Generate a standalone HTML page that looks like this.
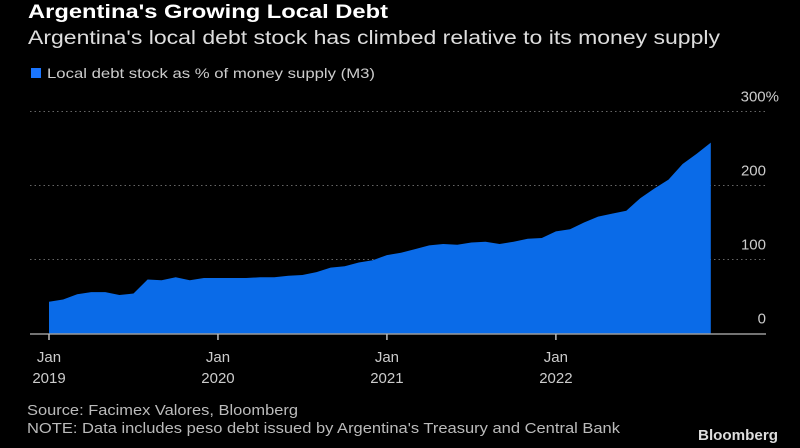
<!DOCTYPE html>
<html><head><meta charset="utf-8"><style>
html,body{margin:0;padding:0;background:#000;width:800px;height:448px;overflow:hidden}
svg text{font-family:"Liberation Sans","DejaVu Sans",sans-serif}
</style></head><body>
<svg id="chart" width="800" height="448" viewBox="0 0 800 448">
<rect width="800" height="448" fill="#000"/>
<text x="28" y="18" font-size="19" font-weight="bold" fill="#fff" textLength="360" lengthAdjust="spacingAndGlyphs">Argentina's Growing Local Debt</text>
<text x="28" y="44" font-size="19" fill="#ddd" textLength="692" lengthAdjust="spacingAndGlyphs">Argentina's local debt stock has climbed relative to its money supply</text>
<rect x="31" y="68" width="10" height="10" fill="#1a75ff"/>
<text x="47" y="78" font-size="14" fill="#ccc" textLength="328" lengthAdjust="spacingAndGlyphs">Local debt stock as % of money supply (M3)</text>
<g id="grid"></g>
<path id="area" fill="#0a6be8"></path>
<line x1="30" y1="334" x2="766" y2="334" stroke="#999" stroke-width="1.5"/>
<g id="xaxis"></g>
<g id="yaxis"></g>
<text x="27" y="415" font-size="15" fill="#bbb" textLength="271" lengthAdjust="spacingAndGlyphs">Source: Facimex Valores, Bloomberg</text>
<text x="27" y="433" font-size="15" fill="#bbb" textLength="593" lengthAdjust="spacingAndGlyphs">NOTE: Data includes peso debt issued by Argentina's Treasury and Central Bank</text>
<text x="698" y="440" font-size="15" font-weight="bold" fill="#ddd" textLength="80" lengthAdjust="spacingAndGlyphs">Bloomberg</text>
</svg>
<script>
const values=[43,46,53,56,56,52,54,73,72,76,72,75,
75,75,75,76,76,78,79,83,89,91,96,99,
106,109,114,119,121,120,123,124,121,124,128,129,
138,141,150,158,162,166,183,196,208,229,243,258];
const yTicks=[0,100,200,300];
const yTickLabels=["0","100","200","300%"];
const xTickIdx=[0,12,24,36];
const xTickLabels=[["Jan","2019"],["Jan","2020"],["Jan","2021"],["Jan","2022"]];
const NS="http://www.w3.org/2000/svg";
const x=i=>49+i*14.08;
const y=v=>333.5-v*0.74;
const grid=document.getElementById('grid');
const ya=document.getElementById('yaxis');
yTicks.forEach((t,k)=>{
  if(t>0){
    const l=document.createElementNS(NS,'line');
    l.setAttribute('x1',30);l.setAttribute('x2',766);
    l.setAttribute('y1',y(t));l.setAttribute('y2',y(t));
    l.setAttribute('stroke','#666');l.setAttribute('stroke-dasharray','1.5 3');
    
    
    grid.appendChild(l);
  }
  const tx=document.createElementNS(NS,'text');
  tx.setAttribute('x',t===300?779:766);tx.setAttribute('y',y(t)-10);
  tx.setAttribute('text-anchor','end');tx.setAttribute('font-size','15');tx.setAttribute('fill','#ccc');
  tx.textContent=yTickLabels[k];
  
  
  ya.appendChild(tx);
});
let d='M'+x(0)+','+y(0);
values.forEach((v,i)=>{d+=' L'+x(i).toFixed(1)+','+y(v).toFixed(1);});
d+=' L'+x(values.length-1).toFixed(1)+','+y(0)+' Z';
document.getElementById('area').setAttribute('d',d);
const xa=document.getElementById('xaxis');
xTickIdx.forEach((idx,k)=>{
  const l=document.createElementNS(NS,'line');
  l.setAttribute('x1',x(idx));l.setAttribute('x2',x(idx));
  l.setAttribute('y1',334);l.setAttribute('y2',340);
  l.setAttribute('stroke','#bbb');l.setAttribute('stroke-width','1.5');
  
  
  xa.appendChild(l);
  xTickLabels[k].forEach((s,j)=>{
    const tx=document.createElementNS(NS,'text');
    tx.setAttribute('x',x(idx));tx.setAttribute('y',362+j*21);
    tx.setAttribute('text-anchor','middle');tx.setAttribute('font-size','15');tx.setAttribute('fill','#ccc');
    tx.textContent=s;
    
    
    xa.appendChild(tx);
  });
});
</script>
</body></html>
